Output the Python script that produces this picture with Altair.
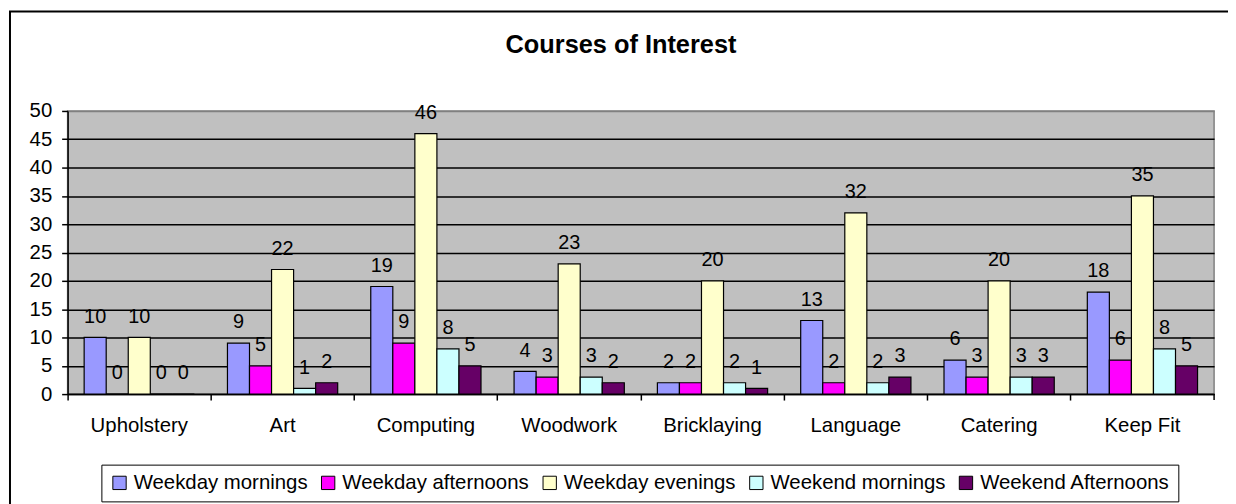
import altair as alt
import pandas as pd

courses = ["Upholstery", "Art", "Computing", "Woodwork", "Bricklaying", "Language", "Catering", "Keep Fit"]
series = ["Weekday mornings", "Weekday afternoons", "Weekday evenings", "Weekend mornings", "Weekend Afternoons"]
weekday_mornings = [10, 9, 19, 4, 2, 13, 6, 18]
weekday_afternoons = [0, 5, 9, 3, 2, 2, 3, 6]
weekday_evenings = [10, 22, 46, 23, 20, 32, 20, 35]
weekend_mornings = [0, 1, 8, 3, 2, 2, 3, 8]
weekend_afternoons = [0, 2, 5, 2, 1, 3, 3, 5]
colors = ["#9999FF", "#FF00FF", "#FFFFCC", "#CCFFFF", "#660066"]
title_text = "Courses of Interest"

rows = []
for s, vals in zip(series, [weekday_mornings, weekday_afternoons, weekday_evenings,
                            weekend_mornings, weekend_afternoons]):
    for c, v in zip(courses, vals):
        rows.append({"course": c, "series": s, "value": v})
df = pd.DataFrame(rows)

FONT = "Liberation Sans"
W, H = 1154, 285

x_enc = alt.X(
    "course:N", sort=courses,
    scale=alt.Scale(paddingInner=0, paddingOuter=0),
    axis=alt.Axis(title=None, bandPosition=0, tickSize=6,
                  labelPadding=16, labelAngle=0, grid=False, labelOverlap=False,
                  labelFont=FONT, labelFontSize=20.5, labelColor="black"),
)
xoff_enc = alt.XOffset("series:N", sort=series,
                       scale=alt.Scale(paddingInner=0, paddingOuter=0.75))
y_enc = alt.Y(
    "value:Q",
    scale=alt.Scale(domain=[0, 50], nice=False),
    axis=alt.Axis(title=None, values=list(range(0, 51, 5)), grid=True,
                  gridColor={"condition": {"test": "datum.value == 50", "value": "#808080"},
                             "value": "black"},
                  gridWidth=1.5, tickSize=6, labelPadding=10, labelOverlap=False,
                  labelFont=FONT, labelFontSize=20.5, labelColor="black"),
)

base = alt.Chart(df)

bars = base.mark_bar(stroke="black", strokeWidth=1.2).encode(
    x=x_enc,
    xOffset=xoff_enc,
    y=y_enc,
    color=alt.Color(
        "series:N", sort=series,
        scale=alt.Scale(domain=series, range=colors),
        legend=alt.Legend(orient="none", legendX=34, legendY=356, direction="horizontal",
                          title=None, symbolType="square", symbolSize=180,
                          symbolStrokeColor="black", symbolStrokeWidth=1,
                          labelFont=FONT, labelFontSize=20.5, labelLimit=400,
                          labelColor="black", strokeColor="black", fillColor="white",
                          padding=8, columnPadding=10, labelOffset=4),
    ),
)

labels = base.mark_text(dy=-15, baseline="alphabetic", font=FONT, fontSize=20,
                        color="black").encode(
    x=x_enc,
    xOffset=xoff_enc,
    y=y_enc,
    text=alt.Text("value:Q"),
)

one = pd.DataFrame({"t": [title_text]})

border = alt.Chart(one).mark_rect(fill="transparent", stroke="black", strokeWidth=2).encode(
    x=alt.value(-58), x2=alt.value(W + 100), y=alt.value(-100), y2=alt.value(H + 200)
)

title = alt.Chart(one).mark_text(font=FONT, fontSize=25.5, fontWeight="bold",
                                 align="center", baseline="alphabetic",
                                 color="black").encode(
    x=alt.value(557), y=alt.value(-58), text="t:N"
)

end_tick = alt.Chart(one).mark_rule(color="black", strokeWidth=1.5).encode(
    x=alt.value(W), y=alt.value(H), y2=alt.value(H + 6)
)

chart = alt.layer(border, title, bars, labels, end_tick).properties(
    width=W, height=H,
    autosize=alt.AutoSizeParams(type="none"),
    padding={"left": 60, "top": 102, "right": 14, "bottom": 109},
    background="white",
).configure_view(
    fill="#C0C0C0", stroke="#808080", strokeWidth=1.5
).configure_axis(
    labelFont=FONT, labelFontSize=20.5, labelColor="black",
    tickColor="black", tickWidth=1.5, domainColor="black", domainWidth=1.5,
)

chart.save("out.html", embed_options={"renderer": "svg", "actions": False})
